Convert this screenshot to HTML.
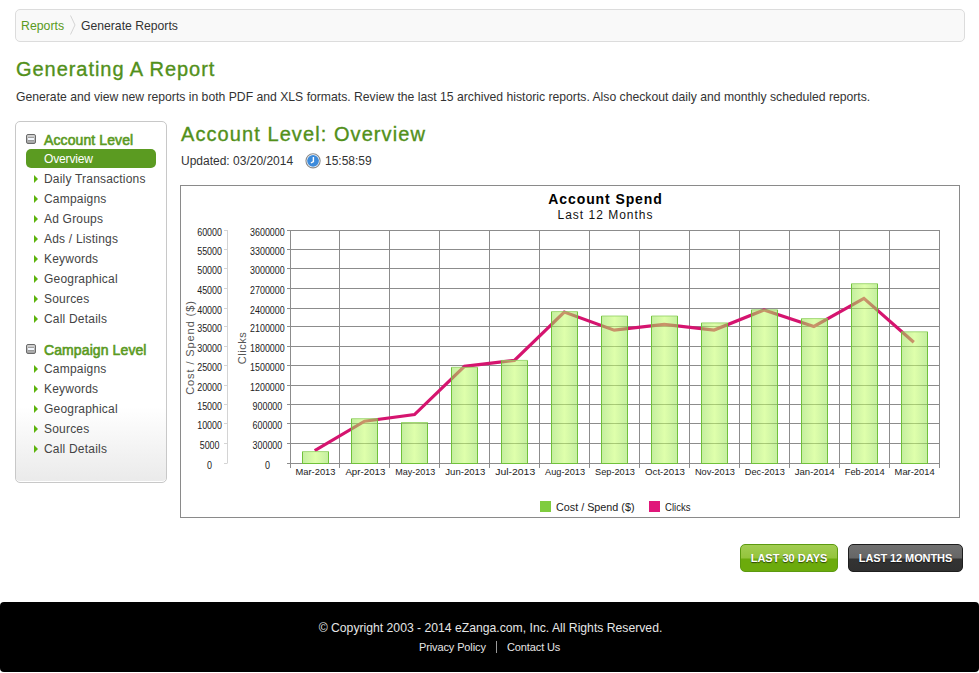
<!DOCTYPE html>
<html><head><meta charset="utf-8">
<style>
*{margin:0;padding:0;box-sizing:border-box}
html,body{width:979px;height:673px;overflow:hidden;background:#fff}
body{position:relative;font-family:"Liberation Sans",sans-serif;color:#333}
.abs{position:absolute;white-space:nowrap}
#bc{left:15px;top:9px;width:950px;height:33px;border:1px solid #dcdcdc;border-radius:5px;background:#f9f9f9}
.t12{font-size:12px;line-height:14px}
#h1{left:16px;top:57px;font-size:20px;line-height:24px;letter-spacing:0.95px;-webkit-text-stroke:0.35px #52901a;color:#52901a}
#desc{left:16px;top:90px;font-size:12.2px;line-height:14px;color:#333}
#side{left:15px;top:121px;width:152px;height:362px;border:1px solid #c8c8c8;border-radius:5px;box-shadow:inset 0 -1px 0 #fff;background:linear-gradient(#fff 0,#fff 285px,#eaeaea 100%)}
.sh{font-size:14px;letter-spacing:0.1px;-webkit-text-stroke:0.6px #5a9a22;color:#5a9a22;line-height:16px}
.si{font-size:12px;line-height:14px;letter-spacing:0.2px;color:#444}
.tri{position:absolute;width:0;height:0;border-top:4px solid transparent;border-bottom:4px solid transparent;border-left:4.5px solid #5cb30c}
.minus{position:absolute;width:10px;height:10px;border-radius:2px;background:linear-gradient(#d4d4d4,#a4a4a4);border:1px solid #6a6a6a}
.minus:after{content:"";position:absolute;left:1px;right:1px;top:3px;height:2px;background:#f4f8ff;box-shadow:0 -1px 0 #a0a0a0,0 1px 0 #9a9a9a}
#pill{left:26px;top:149px;width:130px;height:19px;border-radius:5px;background:#5b9b21}
#h2{left:181px;top:122px;font-size:20px;line-height:24px;letter-spacing:1.08px;-webkit-text-stroke:0.35px #52901a;color:#52901a}
#chart{left:180px;top:184px;width:780px;height:334px;border:1px solid #8a8a8a}
.btn{height:28px;border-radius:5px;font-size:11px;font-weight:bold;color:#fff;text-align:center;line-height:27px;text-shadow:0 1px 1px rgba(0,0,0,.6)}
#b1{left:740px;top:544px;width:98px;border:1px solid #5c9a10;background:linear-gradient(#a2cd52 0,#94c43c 13px,#6cab0c 14px,#6cab0c 100%)}
#b2{left:848px;top:544px;width:115px;letter-spacing:-0.1px;border:1px solid #1e1e1e;background:linear-gradient(#707070 0,#666 13px,#333 14px,#303030 100%)}
#foot{left:0;top:602px;width:979px;height:70px;background:#000;border-radius:4px}
#copy{left:1px;width:979px;text-align:center;top:620.5px;font-size:12.2px;line-height:14px;color:#e6e6e6}
.fl{font-size:11px;letter-spacing:-0.12px;line-height:13px;color:#e6e6e6}
</style></head><body>
<div id="bc" class="abs"></div>
<div class="abs t12" style="left:21px;top:19px;color:#5a9a22;font-size:12.3px">Reports</div>
<svg class="abs" style="left:68px;top:14px" width="10" height="22"><polyline points="2.5,1.5 7,11 2.5,20.5" fill="none" stroke="#d0d0d0" stroke-width="0.9"/></svg>
<div class="abs t12" style="left:81px;top:19px;color:#333;font-size:12.2px">Generate Reports</div>

<div id="h1" class="abs">Generating A Report</div>
<div id="desc" class="abs">Generate and view new reports in both PDF and XLS formats. Review the last 15 archived historic reports. Also checkout daily and monthly scheduled reports.</div>

<div id="side" class="abs"></div>
<div class="minus" style="left:26px;top:134px"></div>
<div class="abs sh" style="left:44px;top:132px">Account Level</div>
<div id="pill" class="abs"></div>
<div class="abs si" style="left:44px;top:152px;color:#fff;letter-spacing:-0.15px">Overview</div>
<div class="tri" style="left:34px;top:175px"></div><div class="abs si" style="left:44px;top:172px">Daily Transactions</div>
<div class="tri" style="left:34px;top:195px"></div><div class="abs si" style="left:44px;top:192px">Campaigns</div>
<div class="tri" style="left:34px;top:215px"></div><div class="abs si" style="left:44px;top:212px">Ad Groups</div>
<div class="tri" style="left:34px;top:235px"></div><div class="abs si" style="left:44px;top:232px">Ads / Listings</div>
<div class="tri" style="left:34px;top:255px"></div><div class="abs si" style="left:44px;top:252px">Keywords</div>
<div class="tri" style="left:34px;top:275px"></div><div class="abs si" style="left:44px;top:272px">Geographical</div>
<div class="tri" style="left:34px;top:295px"></div><div class="abs si" style="left:44px;top:292px">Sources</div>
<div class="tri" style="left:34px;top:315px"></div><div class="abs si" style="left:44px;top:312px">Call Details</div>
<div class="minus" style="left:26px;top:344px"></div>
<div class="abs sh" style="left:44px;top:342px">Campaign Level</div>
<div class="tri" style="left:34px;top:365px"></div><div class="abs si" style="left:44px;top:362px">Campaigns</div>
<div class="tri" style="left:34px;top:385px"></div><div class="abs si" style="left:44px;top:382px">Keywords</div>
<div class="tri" style="left:34px;top:405px"></div><div class="abs si" style="left:44px;top:402px">Geographical</div>
<div class="tri" style="left:34px;top:425px"></div><div class="abs si" style="left:44px;top:422px">Sources</div>
<div class="tri" style="left:34px;top:445px"></div><div class="abs si" style="left:44px;top:442px">Call Details</div>

<div id="h2" class="abs">Account Level: Overview</div>
<div class="abs t12" style="left:181px;top:154px;color:#333">Updated: 03/20/2014</div>
<svg class="abs" style="left:304px;top:152px" width="18" height="18"><circle cx="9.05" cy="8.8" r="7.1" fill="#fff" stroke="#8a8a8a" stroke-width="1.1"/><circle cx="9.05" cy="8.8" r="5.9" fill="#3d8bdb"/><path d="M9.4 4.9V9.5L6.9 11" stroke="#fff" stroke-width="1.4" fill="none"/></svg>
<div class="abs t12" style="left:325px;top:154px;color:#333">15:58:59</div>
<!--CHART-->
<svg class="abs" style="left:0;top:0" width="979" height="673">
<defs><linearGradient id="bg" x1="0" x2="1" y1="0" y2="0"><stop offset="0" stop-color="#94e052"/><stop offset="0.5" stop-color="#c4ff66"/><stop offset="1" stop-color="#94e052"/></linearGradient></defs>
<rect x="180.5" y="185.5" width="779" height="332" fill="#fff" stroke="#8a8a8a" stroke-width="1"/>
<text x="605.5" y="204" text-anchor="middle" font-family="Liberation Sans" font-size="14" font-weight="bold" letter-spacing="0.9" fill="#000">Account Spend</text>
<text x="605.5" y="219" text-anchor="middle" font-family="Liberation Sans" font-size="12" letter-spacing="1" fill="#111">Last 12 Months</text>
<path d="M287 230.5H940 M287 249.5H940 M287 268.5H940 M287 288.5H940 M287 308.5H940 M287 326.5H940 M287 346.5H940 M287 365.5H940 M287 385.5H940 M287 404.5H940 M287 423.5H940 M287 443.5H940 M287 463.5H940 M290.5 230V468 M339.5 230V468 M389.5 230V468 M439.5 230V468 M489.5 230V468 M539.5 230V468 M589.5 230V468 M639.5 230V468 M689.5 230V468 M739.5 230V468 M789.5 230V468 M839.5 230V468 M889.5 230V468 M939.5 230V468" stroke="#8c8c8c" stroke-width="1" fill="none"/>
<path d="M227.5 230V463.5 M224 230.5H227 M224 249.5H227 M224 268.5H227 M224 288.5H227 M224 308.5H227 M224 326.5H227 M224 346.5H227 M224 365.5H227 M224 385.5H227 M224 404.5H227 M224 423.5H227 M224 443.5H227 M224 463.5H227" stroke="#d4d4d4" stroke-width="1" fill="none"/>
<text x="209.6" y="236.0" text-anchor="middle" font-family="Liberation Sans" font-size="10" textLength="24.8" lengthAdjust="spacingAndGlyphs" fill="#222">60000</text>
<text x="267.4" y="236.0" text-anchor="middle" font-family="Liberation Sans" font-size="10" textLength="34.6" lengthAdjust="spacingAndGlyphs" fill="#222">3600000</text>
<text x="209.6" y="255.0" text-anchor="middle" font-family="Liberation Sans" font-size="10" textLength="24.8" lengthAdjust="spacingAndGlyphs" fill="#222">55000</text>
<text x="267.4" y="255.0" text-anchor="middle" font-family="Liberation Sans" font-size="10" textLength="34.6" lengthAdjust="spacingAndGlyphs" fill="#222">3300000</text>
<text x="209.6" y="274.0" text-anchor="middle" font-family="Liberation Sans" font-size="10" textLength="24.8" lengthAdjust="spacingAndGlyphs" fill="#222">50000</text>
<text x="267.4" y="274.0" text-anchor="middle" font-family="Liberation Sans" font-size="10" textLength="34.6" lengthAdjust="spacingAndGlyphs" fill="#222">3000000</text>
<text x="209.6" y="294.0" text-anchor="middle" font-family="Liberation Sans" font-size="10" textLength="24.8" lengthAdjust="spacingAndGlyphs" fill="#222">45000</text>
<text x="267.4" y="294.0" text-anchor="middle" font-family="Liberation Sans" font-size="10" textLength="34.6" lengthAdjust="spacingAndGlyphs" fill="#222">2700000</text>
<text x="209.6" y="314.0" text-anchor="middle" font-family="Liberation Sans" font-size="10" textLength="24.8" lengthAdjust="spacingAndGlyphs" fill="#222">40000</text>
<text x="267.4" y="314.0" text-anchor="middle" font-family="Liberation Sans" font-size="10" textLength="34.6" lengthAdjust="spacingAndGlyphs" fill="#222">2400000</text>
<text x="209.6" y="332.0" text-anchor="middle" font-family="Liberation Sans" font-size="10" textLength="24.8" lengthAdjust="spacingAndGlyphs" fill="#222">35000</text>
<text x="267.4" y="332.0" text-anchor="middle" font-family="Liberation Sans" font-size="10" textLength="34.6" lengthAdjust="spacingAndGlyphs" fill="#222">2100000</text>
<text x="209.6" y="352.0" text-anchor="middle" font-family="Liberation Sans" font-size="10" textLength="24.8" lengthAdjust="spacingAndGlyphs" fill="#222">30000</text>
<text x="267.4" y="352.0" text-anchor="middle" font-family="Liberation Sans" font-size="10" textLength="34.6" lengthAdjust="spacingAndGlyphs" fill="#222">1800000</text>
<text x="209.6" y="371.0" text-anchor="middle" font-family="Liberation Sans" font-size="10" textLength="24.8" lengthAdjust="spacingAndGlyphs" fill="#222">25000</text>
<text x="267.4" y="371.0" text-anchor="middle" font-family="Liberation Sans" font-size="10" textLength="34.6" lengthAdjust="spacingAndGlyphs" fill="#222">1500000</text>
<text x="209.6" y="391.0" text-anchor="middle" font-family="Liberation Sans" font-size="10" textLength="24.8" lengthAdjust="spacingAndGlyphs" fill="#222">20000</text>
<text x="267.4" y="391.0" text-anchor="middle" font-family="Liberation Sans" font-size="10" textLength="34.6" lengthAdjust="spacingAndGlyphs" fill="#222">1200000</text>
<text x="209.6" y="410.0" text-anchor="middle" font-family="Liberation Sans" font-size="10" textLength="24.8" lengthAdjust="spacingAndGlyphs" fill="#222">15000</text>
<text x="267.4" y="410.0" text-anchor="middle" font-family="Liberation Sans" font-size="10" textLength="29.7" lengthAdjust="spacingAndGlyphs" fill="#222">900000</text>
<text x="209.6" y="429.0" text-anchor="middle" font-family="Liberation Sans" font-size="10" textLength="24.8" lengthAdjust="spacingAndGlyphs" fill="#222">10000</text>
<text x="267.4" y="429.0" text-anchor="middle" font-family="Liberation Sans" font-size="10" textLength="29.7" lengthAdjust="spacingAndGlyphs" fill="#222">600000</text>
<text x="209.6" y="449.0" text-anchor="middle" font-family="Liberation Sans" font-size="10" textLength="19.8" lengthAdjust="spacingAndGlyphs" fill="#222">5000</text>
<text x="267.4" y="449.0" text-anchor="middle" font-family="Liberation Sans" font-size="10" textLength="29.7" lengthAdjust="spacingAndGlyphs" fill="#222">300000</text>
<text x="209.6" y="469.0" text-anchor="middle" font-family="Liberation Sans" font-size="10" textLength="5.0" lengthAdjust="spacingAndGlyphs" fill="#222">0</text>
<text x="267.4" y="469.0" text-anchor="middle" font-family="Liberation Sans" font-size="10" textLength="5.0" lengthAdjust="spacingAndGlyphs" fill="#222">0</text>
<text transform="translate(193.5,347.5) rotate(-90)" text-anchor="middle" font-family="Liberation Sans" font-size="11" letter-spacing="0.9" fill="#555">Cost / Spend ($)</text>
<text transform="translate(246,348) rotate(-90)" text-anchor="middle" font-family="Liberation Sans" font-size="11" letter-spacing="0.5" fill="#555">Clicks</text>
<text x="315.5" y="475" text-anchor="middle" font-family="Liberation Sans" font-size="9.8" textLength="40" lengthAdjust="spacingAndGlyphs" fill="#222">Mar-2013</text>
<text x="365.4" y="475" text-anchor="middle" font-family="Liberation Sans" font-size="9.8" textLength="40" lengthAdjust="spacingAndGlyphs" fill="#222">Apr-2013</text>
<text x="415.3" y="475" text-anchor="middle" font-family="Liberation Sans" font-size="9.8" textLength="40" lengthAdjust="spacingAndGlyphs" fill="#222">May-2013</text>
<text x="465.3" y="475" text-anchor="middle" font-family="Liberation Sans" font-size="9.8" textLength="40" lengthAdjust="spacingAndGlyphs" fill="#222">Jun-2013</text>
<text x="515.2" y="475" text-anchor="middle" font-family="Liberation Sans" font-size="9.8" textLength="40" lengthAdjust="spacingAndGlyphs" fill="#222">Jul-2013</text>
<text x="565.1" y="475" text-anchor="middle" font-family="Liberation Sans" font-size="9.8" textLength="40" lengthAdjust="spacingAndGlyphs" fill="#222">Aug-2013</text>
<text x="615.0" y="475" text-anchor="middle" font-family="Liberation Sans" font-size="9.8" textLength="40" lengthAdjust="spacingAndGlyphs" fill="#222">Sep-2013</text>
<text x="665.0" y="475" text-anchor="middle" font-family="Liberation Sans" font-size="9.8" textLength="40" lengthAdjust="spacingAndGlyphs" fill="#222">Oct-2013</text>
<text x="714.9" y="475" text-anchor="middle" font-family="Liberation Sans" font-size="9.8" textLength="40" lengthAdjust="spacingAndGlyphs" fill="#222">Nov-2013</text>
<text x="764.8" y="475" text-anchor="middle" font-family="Liberation Sans" font-size="9.8" textLength="40" lengthAdjust="spacingAndGlyphs" fill="#222">Dec-2013</text>
<text x="814.7" y="475" text-anchor="middle" font-family="Liberation Sans" font-size="9.8" textLength="40" lengthAdjust="spacingAndGlyphs" fill="#222">Jan-2014</text>
<text x="864.7" y="475" text-anchor="middle" font-family="Liberation Sans" font-size="9.8" textLength="40" lengthAdjust="spacingAndGlyphs" fill="#222">Feb-2014</text>
<text x="914.6" y="475" text-anchor="middle" font-family="Liberation Sans" font-size="9.8" textLength="40" lengthAdjust="spacingAndGlyphs" fill="#222">Mar-2014</text>
<polyline points="314.7,450.6 364.6,421.2 414.5,414.6 464.5,366.3 514.4,360.4 564.3,312.1 614.2,330.2 664.2,324.4 714.1,330 764.0,310 813.9,326.4 863.9,298.4 913.8,342.3" fill="none" stroke="#d5146f" stroke-width="3.2" stroke-linejoin="miter"/>
<rect x="302.5" y="451.6" width="26" height="11.9" fill="url(#bg)" fill-opacity="0.55"/>
<path d="M302.5 451.6V463.5H328.5V451.6" fill="none" stroke="#70c23a" stroke-width="1"/><path d="M302.5 451.6H328.5" stroke="#90d060" stroke-opacity="0.8" stroke-width="1"/>
<rect x="351.5" y="418.7" width="26" height="44.8" fill="url(#bg)" fill-opacity="0.55"/>
<path d="M351.5 418.7V463.5H377.5V418.7" fill="none" stroke="#70c23a" stroke-width="1"/><path d="M351.5 418.7H377.5" stroke="#90d060" stroke-opacity="0.8" stroke-width="1"/>
<rect x="401.5" y="422.5" width="26" height="41.0" fill="url(#bg)" fill-opacity="0.55"/>
<path d="M401.5 422.5V463.5H427.5V422.5" fill="none" stroke="#70c23a" stroke-width="1"/><path d="M401.5 422.5H427.5" stroke="#90d060" stroke-opacity="0.8" stroke-width="1"/>
<rect x="451.5" y="367.3" width="26" height="96.2" fill="url(#bg)" fill-opacity="0.55"/>
<path d="M451.5 367.3V463.5H477.5V367.3" fill="none" stroke="#70c23a" stroke-width="1"/><path d="M451.5 367.3H477.5" stroke="#90d060" stroke-opacity="0.8" stroke-width="1"/>
<rect x="501.5" y="360.4" width="26" height="103.1" fill="url(#bg)" fill-opacity="0.55"/>
<path d="M501.5 360.4V463.5H527.5V360.4" fill="none" stroke="#70c23a" stroke-width="1"/><path d="M501.5 360.4H527.5" stroke="#90d060" stroke-opacity="0.8" stroke-width="1"/>
<rect x="551.5" y="311.6" width="26" height="151.9" fill="url(#bg)" fill-opacity="0.55"/>
<path d="M551.5 311.6V463.5H577.5V311.6" fill="none" stroke="#70c23a" stroke-width="1"/><path d="M551.5 311.6H577.5" stroke="#90d060" stroke-opacity="0.8" stroke-width="1"/>
<rect x="601.5" y="316.0" width="26" height="147.5" fill="url(#bg)" fill-opacity="0.55"/>
<path d="M601.5 316.0V463.5H627.5V316.0" fill="none" stroke="#70c23a" stroke-width="1"/><path d="M601.5 316.0H627.5" stroke="#90d060" stroke-opacity="0.8" stroke-width="1"/>
<rect x="651.5" y="316.0" width="26" height="147.5" fill="url(#bg)" fill-opacity="0.55"/>
<path d="M651.5 316.0V463.5H677.5V316.0" fill="none" stroke="#70c23a" stroke-width="1"/><path d="M651.5 316.0H677.5" stroke="#90d060" stroke-opacity="0.8" stroke-width="1"/>
<rect x="701.5" y="322.9" width="26" height="140.6" fill="url(#bg)" fill-opacity="0.55"/>
<path d="M701.5 322.9V463.5H727.5V322.9" fill="none" stroke="#70c23a" stroke-width="1"/><path d="M701.5 322.9H727.5" stroke="#90d060" stroke-opacity="0.8" stroke-width="1"/>
<rect x="751.5" y="309.8" width="26" height="153.7" fill="url(#bg)" fill-opacity="0.55"/>
<path d="M751.5 309.8V463.5H777.5V309.8" fill="none" stroke="#70c23a" stroke-width="1"/><path d="M751.5 309.8H777.5" stroke="#90d060" stroke-opacity="0.8" stroke-width="1"/>
<rect x="801.5" y="318.6" width="26" height="144.9" fill="url(#bg)" fill-opacity="0.55"/>
<path d="M801.5 318.6V463.5H827.5V318.6" fill="none" stroke="#70c23a" stroke-width="1"/><path d="M801.5 318.6H827.5" stroke="#90d060" stroke-opacity="0.8" stroke-width="1"/>
<rect x="851.5" y="283.7" width="26" height="179.8" fill="url(#bg)" fill-opacity="0.55"/>
<path d="M851.5 283.7V463.5H877.5V283.7" fill="none" stroke="#70c23a" stroke-width="1"/><path d="M851.5 283.7H877.5" stroke="#90d060" stroke-opacity="0.8" stroke-width="1"/>
<rect x="901.5" y="331.8" width="26" height="131.7" fill="url(#bg)" fill-opacity="0.55"/>
<path d="M901.5 331.8V463.5H927.5V331.8" fill="none" stroke="#70c23a" stroke-width="1"/><path d="M901.5 331.8H927.5" stroke="#90d060" stroke-opacity="0.8" stroke-width="1"/>
<rect x="540" y="501" width="11" height="11" fill="#7fcc3f"/>
<text x="556" y="511" font-family="Liberation Sans" font-size="11" textLength="78.5" lengthAdjust="spacingAndGlyphs" fill="#222">Cost / Spend ($)</text>
<rect x="649" y="501" width="11" height="11" fill="#e0177a"/>
<text x="665" y="511" font-family="Liberation Sans" font-size="11" textLength="25.5" lengthAdjust="spacingAndGlyphs" fill="#222">Clicks</text>
</svg>
<!--/CHART-->
<div id="b1" class="abs btn">LAST 30 DAYS</div>
<div id="b2" class="abs btn">LAST 12 MONTHS</div>
<div id="foot" class="abs"></div>
<div id="copy" class="abs">&copy; Copyright 2003 - 2014 eZanga.com, Inc. All Rights Reserved.</div>
<div class="abs fl" style="left:419px;top:641px">Privacy Policy</div>
<div class="abs" style="left:496px;top:641px;width:1px;height:12px;background:#9a9a9a"></div>
<div class="abs fl" style="left:507px;top:641px">Contact Us</div>
</body></html>
